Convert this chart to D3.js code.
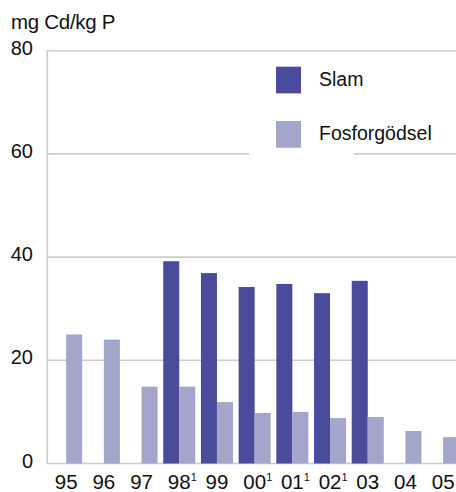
<!DOCTYPE html>
<html lang="sv">
<head>
<meta charset="UTF-8">
<title>Kadmium i slam och fosforgödsel</title>
<script src="https://cdn.jsdelivr.net/npm/d3@7"></script>
<style>
    body { margin: 0; background: #fff; }
    text { font-family: "Liberation Sans", Arial, sans-serif; fill: #111; }
</style>
</head>
<body>
<svg width="456" height="492"></svg>
<script>
// data
var years  = ['95', '96', '97', '98', '99', '00', '01', '02', '03', '04', '05'];
var notes  = ['', '', '', '1', '', '1', '1', '1', '', '', ''];
var slam   = [null, null, null, 39.2, 36.9, 34.2, 34.8, 33.0, 35.4, null, null];
var fosfor = [25, 24, 14.9, 14.9, 11.9, 9.8, 10.0, 8.8, 9.0, 6.3, 5.1];
var yTicks = [0, 20, 40, 60, 80];
var seriesNames = ['Slam', 'Fosforgödsel'];
var colors = ['#4a4b9b', '#a3a5cb'];

var svg = d3.select('svg');
// plot edges (window.top is reserved, so use a margin object)
var plot = { left: 47.3, right: 462, top: 50.7, bottom: 463.5 };

var x = d3.scaleBand().domain(years).range([plot.left, plot.right])
    .paddingInner(0.15).paddingOuter(0.075);
var x1 = d3.scaleBand().domain(seriesNames).range([0, x.bandwidth()]);
var y = d3.scaleLinear().domain([0, 80]).range([plot.bottom, plot.top]);

// gridlines
svg.append('g').selectAll('line')
    .data(yTicks.filter(function(d) { return d > 0; }))
    .enter().append('line')
    .attr('x1', plot.left).attr('x2', 456)
    .attr('y1', function(d) { return y(d); })
    .attr('y2', function(d) { return y(d); })
    .attr('stroke', '#cccccc').attr('stroke-width', 1.6);

// axis lines
svg.append('line').attr('x1', plot.left).attr('x2', plot.left)
    .attr('y1', plot.top - 0.8).attr('y2', plot.bottom)
    .attr('stroke', '#cccccc').attr('stroke-width', 1.6);
svg.append('line').attr('x1', plot.left - 0.8).attr('x2', 456)
    .attr('y1', plot.bottom).attr('y2', plot.bottom)
    .attr('stroke', '#cccccc').attr('stroke-width', 1.6);

// legend background hides the 60 line
svg.append('rect').attr('x', 249).attr('y', 56).attr('width', 105).attr('height', 104)
    .attr('fill', '#fff');

// bars
var rows = years.map(function(yr, i) { return { year: yr, values: [slam[i], fosfor[i]] }; });
var groups = svg.append('g').selectAll('g').data(rows).enter().append('g')
    .attr('transform', function(d) { return 'translate(' + x(d.year) + ',0)'; });
groups.selectAll('rect')
    .data(function(d) {
        return d.values.map(function(v, j) { return { name: seriesNames[j], value: v, j: j }; })
            .filter(function(e) { return e.value != null; });
    })
    .enter().append('rect')
    .attr('x', function(d) { return x1(d.name); })
    .attr('width', x1.bandwidth())
    .attr('y', function(d) { return y(d.value); })
    .attr('height', function(d) { return plot.bottom - y(d.value); })
    .attr('fill', function(d) { return colors[d.j]; });

// y tick labels
svg.append('g').selectAll('text').data(yTicks).enter().append('text')
    .attr('x', 33).attr('y', function(d) { return y(d) - 3; })
    .attr('dy', '0.35em')
    .attr('text-anchor', 'end')
    .style('font-size', '20px')
    .text(function(d) { return d; });

// x labels
var xl = svg.append('g').selectAll('g').data(years).enter().append('g');
xl.append('text')
    .attr('x', function(d) { return x(d) + x.bandwidth() / 2; })
    .attr('y', 489)
    .attr('text-anchor', 'middle')
    .style('font-size', '20.5px')
    .text(function(d) { return d; });
xl.append('text')
    .attr('x', function(d) { return x(d) + x.bandwidth() / 2 + 11.5; })
    .attr('y', 481)
    .style('font-size', '11px')
    .text(function(d, i) { return notes[i]; });

// unit label
svg.append('text').attr('x', 11).attr('y', 28.5)
    .style('font-size', '20.5px').style('letter-spacing', '-0.3px')
    .text('mg Cd/kg P');

// legend
var leg = svg.append('g').selectAll('g').data(seriesNames).enter().append('g')
    .attr('transform', function(d, i) { return 'translate(276,' + (66.7 + i * 54.3) + ')'; });
leg.append('rect').attr('width', 25).attr('height', 26.7)
    .attr('fill', function(d, i) { return colors[i]; });
leg.append('text').attr('x', 43).attr('y', 19.3)
    .style('font-size', '19.5px')
    .text(function(d) { return d; });
</script>
</body>
</html>
